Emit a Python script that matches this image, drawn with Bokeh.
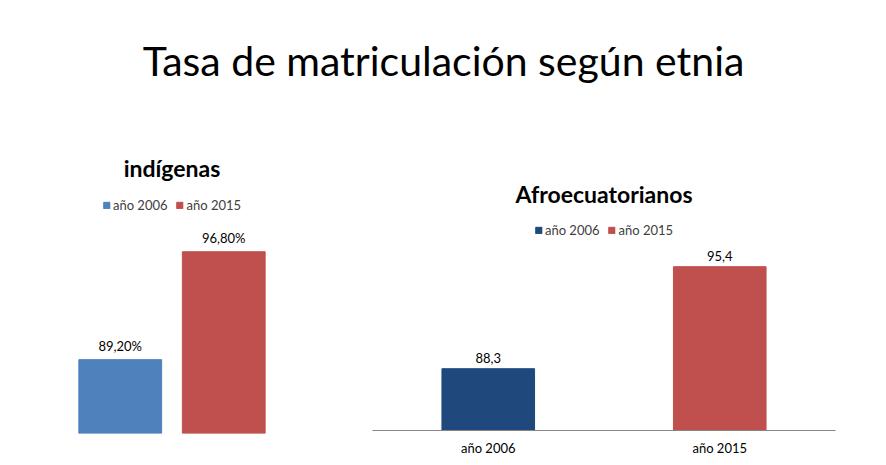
from bokeh.plotting import figure
from bokeh.layouts import column, row
from bokeh.models import ColumnDataSource, Legend, LegendItem, FactorRange, Range1d
from bokeh.embed import file_html
from bokeh.resources import INLINE
from bokeh.core.properties import value

# ---- data ----
main_title = "Tasa de matriculación según etnia"
years = ["año 2006", "año 2015"]
indigenas_title = "indígenas"
indigenas = [89.2, 96.8]
indigenas_labels = ["89,20%", "96,80%"]
afro_title = "Afroecuatorianos"
afro = [88.3, 95.4]
afro_labels = ["88,3", "95,4"]
indigenas_colors = ["#4F81BD", "#C0504D"]
afro_colors = ["#1F497D", "#C0504D"]
axis_min = 84

FONT = "Lato"

# ---- main title ----
tp = figure(width=886, height=108, toolbar_location=None, output_backend="svg",
            x_range=(0, 1), y_range=(0, 1), min_border_left=0, min_border_right=0,
            min_border_bottom=0, min_border_top=84)
tp.title.text = main_title
tp.title.align = "center"
tp.title.text_font = FONT
tp.title.text_font_size = "41px"
tp.title.text_font_style = "normal"
tp.title.text_color = "#000000"
tp.title.standoff = 0
tp.axis.visible = False
tp.grid.visible = False
tp.outline_line_color = None


def bar_fig(title, vals, labels, colors, width, height, bl, br, bt, bb, ymax, bar_w, show_axis, title_standoff):
    src = ColumnDataSource(dict(x=years, top=vals, color=colors, label=labels))
    p = figure(width=width, height=height, toolbar_location=None, output_backend="svg",
               x_range=FactorRange(*years, range_padding=0), y_range=Range1d(axis_min, ymax),
               min_border_left=bl, min_border_right=br, min_border_top=bt, min_border_bottom=bb,
               title=title)
    p.title.align = "center"
    p.title.text_font = FONT
    p.title.text_font_size = "23px"
    p.title.text_font_style = "bold"
    p.title.text_color = "#000000"
    p.title.standoff = title_standoff
    r = p.vbar(x="x", top="top", bottom=0, width=bar_w, color="color", source=src)
    p.text(x="x", y="top", text="label", source=src, text_align="center", text_baseline="bottom",
           y_offset=-6, text_font=value(FONT), text_font_size="13px", text_color="#000000")
    items = [LegendItem(label=years[i], renderers=[r], index=i) for i in range(len(years))]
    leg = Legend(items=items, orientation="horizontal", location="top_center",
                 border_line_color=None, background_fill_alpha=0, margin=0, padding=2,
                 spacing=8, glyph_width=8, glyph_height=8, label_standoff=3,
                 label_text_font=FONT, label_text_font_size="13px", label_text_color="#404040",
                 label_height=14)
    p.add_layout(leg)
    p.grid.visible = False
    p.outline_line_color = None
    p.yaxis.visible = False
    if show_axis:
        ax = p.xaxis[0]
        ax.axis_line_color = "#868686"
        ax.major_tick_line_color = None
        ax.minor_tick_line_color = None
        ax.major_label_text_font = FONT
        ax.major_label_text_font_size = "13px"
        ax.major_label_text_color = "#000000"
        ax.major_label_standoff = 3
    else:
        p.xaxis.visible = False
    return p


left = bar_fig(indigenas_title, indigenas, indigenas_labels, indigenas_colors,
               338, 357, 68, 63, 89, 32, axis_min + (433 - 197) / 14.2, 0.8, False, 31)
right = bar_fig(afro_title, afro, afro_labels, afro_colors,
                548, 357, 34, 51, 114, 35, axis_min + (430 - 222) / 14.37, 0.4, True, 29)

layout = column(tp, row(column(left), column(right), spacing=0), spacing=0)
open("out.html", "w").write(file_html(layout, INLINE))
